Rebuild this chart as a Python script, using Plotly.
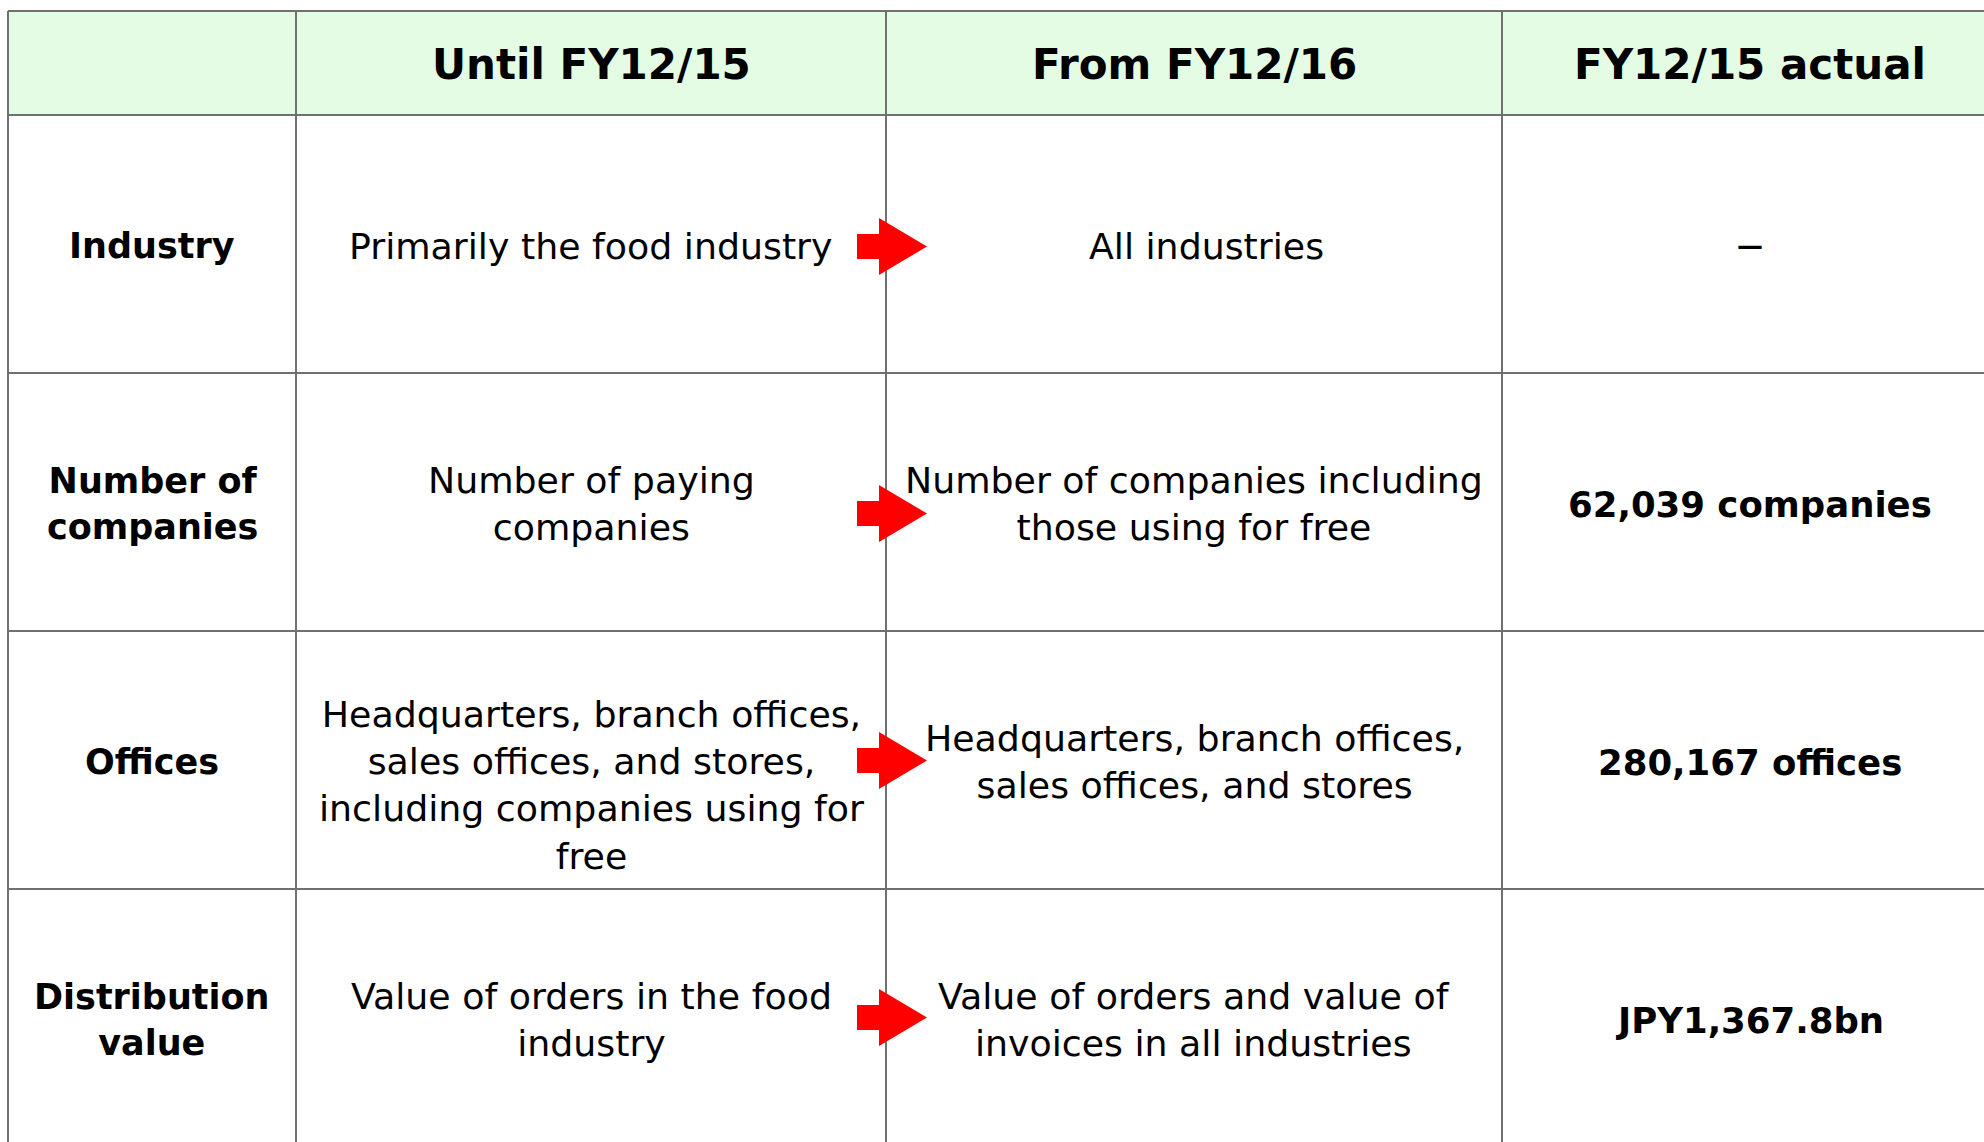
import plotly.graph_objects as go

# ---- data ----
headers = ["", "Until FY12/15", "From FY12/16", "FY12/15 actual"]
row_labels = ["Industry", "Number of<br>companies", "Offices", "Distribution<br>value"]
until_fy15 = [
    "Primarily the food industry",
    "Number of paying<br>companies",
    "Headquarters, branch offices,<br>sales offices, and stores,<br>including companies using for<br>free",
    "Value of orders in the food<br>industry",
]
from_fy16 = [
    "All industries",
    "Number of companies including<br>those using for free",
    "Headquarters, branch offices,<br>sales offices, and stores",
    "Value of orders and value of<br>invoices in all industries",
]
fy15_actual = ["—", "62,039 companies", "280,167 offices", "JPY1,367.8bn"]

# ---- layout geometry (page pixels) ----
W, H = 1984, 1142
col_edges = [8, 296, 886, 1502, 1998]
row_edges = [11, 115, 373, 631, 889, 1147]
FONT = "DejaVu Sans, Verdana, sans-serif"
GRID = "#707070"
HEAD_BG = "#E4FCE4"

fig = go.Figure()
shapes = []
annotations = []

# header background
shapes.append(dict(type="rect", xref="x", yref="y", x0=col_edges[0], x1=col_edges[-1],
                   y0=row_edges[0], y1=row_edges[1], fillcolor=HEAD_BG, line=dict(width=0), layer="below"))
# grid lines
for y in row_edges:
    shapes.append(dict(type="line", xref="x", yref="y", x0=col_edges[0], x1=col_edges[-1], y0=y, y1=y,
                       line=dict(color=GRID, width=2)))
for x in col_edges:
    shapes.append(dict(type="line", xref="x", yref="y", x0=x, x1=x, y0=row_edges[0], y1=row_edges[-1],
                       line=dict(color=GRID, width=2)))


def add_cell(text, ci, ri, size, bold, dy=0, dx=0):
    cx = (col_edges[ci] + col_edges[ci + 1]) / 2 + dx
    cy = (row_edges[ri] + row_edges[ri + 1]) / 2 + dy
    if bold:
        text = "<br>".join(f"<b>{ln}</b>" for ln in text.split("<br>"))
    annotations.append(dict(x=cx, y=cy, xref="x", yref="y", text=text,
                            showarrow=False, xanchor="center", yanchor="middle", align="center",
                            font=dict(family=FONT, size=size, color="#000000")))


for ci, h in enumerate(headers):
    if h:
        add_cell(h, ci, 0, 42, True, dy=1)

BASE_DY = 2
cell_dy = {(1, 3): 23}
cell_dx = {(2, 1): 12}
for ri in range(4):
    r = ri + 1
    add_cell(row_labels[ri], 0, r, 35, True, dy=BASE_DY)
    add_cell(until_fy15[ri], 1, r, 36.3, False, dy=BASE_DY + cell_dy.get((1, r), 0))
    add_cell(from_fy16[ri], 2, r, 36.3, False, dy=BASE_DY, dx=cell_dx.get((2, r), 0))
    if fy15_actual[ri] == "—":
        add_cell(fy15_actual[ri], 3, r, 26, True, dy=BASE_DY)
    else:
        add_cell(fy15_actual[ri], 3, r, 35.5, True, dy=BASE_DY)

# red block arrows across the Until/From boundary
arrow_y = [246.5, 513.5, 760.5, 1017.5]
ax = col_edges[2]
for ay in arrow_y:
    path = (f"M {ax-29},{ay-12.5} L {ax-7},{ay-12.5} L {ax-7},{ay-28.5} L {ax+41},{ay} "
            f"L {ax-7},{ay+28.5} L {ax-7},{ay+12.5} L {ax-29},{ay+12.5} Z")
    shapes.append(dict(type="path", xref="x", yref="y", path=path, fillcolor="#FF0000",
                       line=dict(width=0), layer="above"))

fig.add_trace(go.Scatter(x=[0, W], y=[0, H], mode="markers", marker=dict(opacity=0),
                         hoverinfo="skip", showlegend=False))

fig.update_layout(
    width=W, height=H, margin=dict(l=0, r=0, t=0, b=0),
    paper_bgcolor="white", plot_bgcolor="white",
    xaxis=dict(range=[0, W], visible=False, fixedrange=True),
    yaxis=dict(range=[H, 0], visible=False, fixedrange=True),
    shapes=shapes, annotations=annotations, showlegend=False,
)

fig.write_html("out.html", config={"displayModeBar": False},
               post_script="document.body.style.margin='0';document.body.style.overflow='hidden';")
